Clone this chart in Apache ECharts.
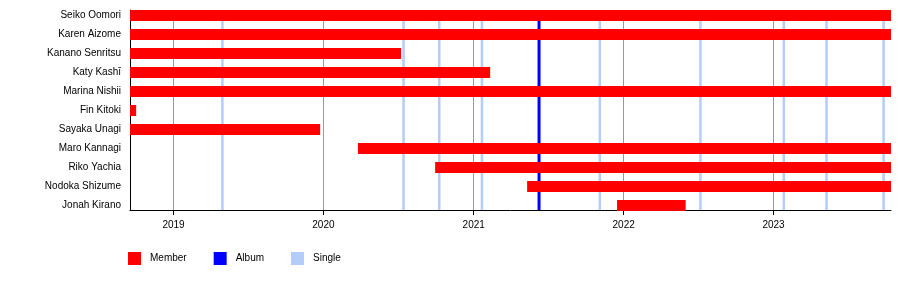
<!DOCTYPE html>
<html><head><meta charset="utf-8">
<script src="https://cdn.jsdelivr.net/npm/echarts@6/dist/echarts.min.js"></script>
<style>html,body{margin:0;padding:0;background:#fff}#c{width:900px;height:305px}</style>
</head><body><div id="c"></div><script>
const rangeStart = '2018-09-17';
const rangeEnd = '2023-10-14';
const members = ['Seiko Oomori','Karen Aizome','Kanano Senritsu','Katy Kashī','Marina Nishii','Fin Kitoki','Sayaka Unagi','Maro Kannagi','Riko Yachia','Nodoka Shizume','Jonah Kirano'];
const memberStart = ['2018-09-17','2018-09-17','2018-09-17','2018-09-17','2018-09-17','2018-09-17','2018-09-17','2020-03-25','2020-09-29','2021-05-11','2021-12-16'];
const memberEnd = ['present','present','2020-07-08','2021-02-10','present','2018-10-02','2019-12-24','present','present','present','2022-06-01'];
const albumDates = ['2021-06-09'];
const singleDates = ['2019-04-30','2020-07-14','2020-10-09','2021-01-21','2021-11-04','2022-07-07','2023-01-26','2023-05-10','2023-09-26'];
const yearTicks = ['2019','2020','2021','2022','2023'];
const legendNames = ['Member','Album','Single'];

const toTs = s => { if (s === 'present') s = rangeEnd; const p = s.split('-').map(Number); return Date.UTC(p[0], p[1]-1, p[2]); };
const xMin = toTs(rangeStart), xMax = toTs(rangeEnd);
const YEAR = 365*86400000;
const font = 'Liberation Sans, Arial, sans-serif';

function vline(width){
  return function(params, api){
    const b = api.coord([api.value(0), 0]);
    const t = api.coord([api.value(0), 1]);
    return {type:'line', shape:{x1:b[0], y1:b[1], x2:b[0], y2:t[1]}, style:{stroke: api.visual('color'), lineWidth: width}};
  };
}

const chart = echarts.init(document.getElementById('c'), null, {renderer:'canvas'});
chart.setOption({
  useUTC: true,
  animation: false,
  textStyle: {fontFamily: font},
  grid: [
    {left:130, right:9, top:6, height:209},
    {left:130, right:9, top:10, height:200}
  ],
  legend: {
    data: legendNames, left:128, top:252, padding:0, icon:'rect', itemWidth:13, itemHeight:13, itemGap:27,
    textStyle:{fontSize:10, color:'#000', fontFamily:font, padding:[3,0,0,4]}
  },
  xAxis: [
    {gridIndex:0, type:'time', min:xMin, max:xMax, show:false},
    {gridIndex:1, type:'time', min:xMin, max:xMax, splitNumber:5, minInterval:YEAR, maxInterval:YEAR*1.02,
     axisLine:{show:true, lineStyle:{color:'#000', width:1}},
     axisTick:{show:true, length:5, lineStyle:{color:'#000'}},
     axisLabel:{fontSize:10, color:'#000', fontFamily:font, margin:10, showMinLabel:false, showMaxLabel:false,
       formatter: v => { const d = new Date(v); const y = String(d.getUTCFullYear());
         return (d.getUTCMonth()===0 && d.getUTCDate()===1 && yearTicks.indexOf(y)>=0) ? y : ''; }},
     splitLine:{show:true, showMinLine:false, showMaxLine:false, lineStyle:{color:'#999', width:1}}
    }
  ],
  yAxis: [
    {gridIndex:0, type:'category', data:members, inverse:true,
     axisLine:{show:false}, axisTick:{show:false}, splitLine:{show:false},
     axisLabel:{fontSize:10, color:'#000', fontFamily:font, margin:9}},
    {gridIndex:1, type:'value', min:0, max:1,
     axisLine:{show:true, lineStyle:{color:'#000', width:1}}, axisTick:{show:false}, axisLabel:{show:false}, splitLine:{show:false}}
  ],
  series: [
    {name:'Single', type:'custom', xAxisIndex:1, yAxisIndex:1, z:1, itemStyle:{color:'#b4ccfa'},
     data: singleDates.map(d => [toTs(d)]), encode:{x:0}, renderItem: vline(2.5)},
    {name:'Album', type:'custom', xAxisIndex:1, yAxisIndex:1, z:1, itemStyle:{color:'#0000ff'},
     data: albumDates.map(d => [toTs(d)]), encode:{x:0}, renderItem: vline(3)},
    {name:'Member', type:'custom', xAxisIndex:0, yAxisIndex:0, z:3, itemStyle:{color:'#ff0000'},
     data: members.map((m,i) => [toTs(memberStart[i]), toTs(memberEnd[i]), i]),
     encode:{x:[0,1], y:2},
     renderItem: function(params, api){
       const s = api.coord([api.value(0), api.value(2)]);
       const e = api.coord([api.value(1), api.value(2)]);
       const h = 11;
       return {type:'rect', shape:{x:s[0], y:s[1]-h/2, width:e[0]-s[0], height:h}, style:{fill: api.visual('color')}};
     }}
  ]
});
</script></body></html>
